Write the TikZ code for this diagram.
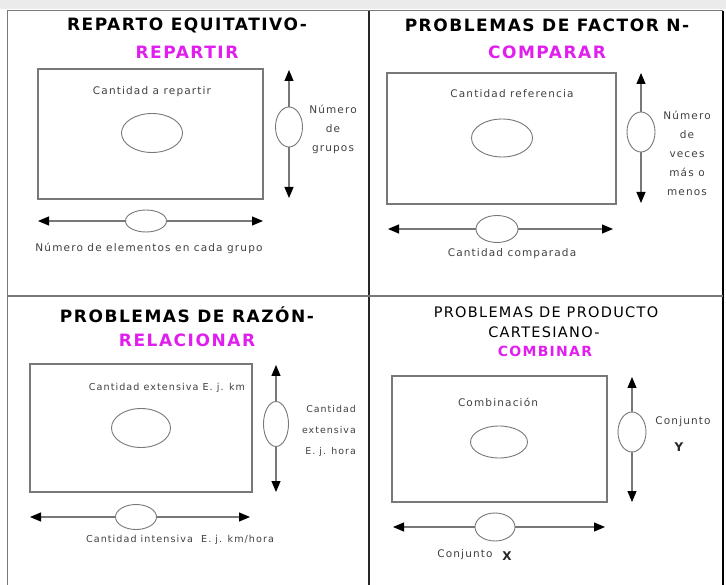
\documentclass[tikz,border=0pt]{standalone}
\usepackage{fontspec}
\setmainfont{DejaVu Sans}
\newfontfamily\titlef[LetterSpace=9]{DejaVu Sans}
\newfontfamily\labf[LetterSpace=11]{DejaVu Sans}
\usetikzlibrary{arrows.meta,shapes.geometric}
\definecolor{mag}{RGB}{225,30,240}
\definecolor{ln}{RGB}{120,120,120}
\begin{document}
\begin{tikzpicture}[x=1pt,y=-1pt,
  box/.style={draw=ln, line width=1.3pt, inner sep=0pt},
  oval/.style={draw=ln, line width=0.9pt, ellipse, fill=white, inner sep=0pt},
  lab/.style={font=\labf\fontsize{10.5}{19}\selectfont, text=black!75, inner sep=0pt, align=center},
  labs/.style={lab, font=\labf\fontsize{9.6}{20}\selectfont},
  ttl/.style={font=\titlef\bfseries\fontsize{17}{19}\selectfont, inner sep=0pt},
  ttlm/.style={ttl, text=mag},
  ttls/.style={font=\titlef\fontsize{14.5}{16}\selectfont, inner sep=0pt},
  ttlsm/.style={font=\titlef\bfseries\fontsize{14}{16}\selectfont, inner sep=0pt, text=mag},
  ar/.style={draw=ln, line width=1.2pt, -{Triangle[length=11pt,width=9pt,black]}},
  big/.style={font=\bfseries\fontsize{12}{14}\selectfont, inner sep=0pt, text=black!85}
]
\useasboundingbox (0,0) rectangle (726,585);
% frame
\fill[black!8] (0,0) rectangle (726,9);
\draw[ln, line width=1pt] (7,11) -- (723,11);
\draw[ln, line width=1pt] (7,11) -- (7,585);
\draw[black, line width=2.5pt] (723,11) -- (723,585);
\draw[black!85, line width=1.3pt] (369,11) -- (369,585);
\draw[ln, line width=2pt] (7,296) -- (723,296);

% ---------- Q1
\node[ttl] (q1a) at (187,25) {REPARTO EQUITATIVO-};
\node[ttlm] (q1b) at (187,52) {REPARTIR};
\node[box, minimum width=225, minimum height=130] (r1) at (150.5,134) {};
\node[lab] (t1) at (152,92) {Cantidad a repartir};
\node[oval, minimum width=61, minimum height=39] (e1) at (152,133) {};
\coordinate (v1t) at (289,70);
\coordinate (v1b) at (289,198);
\node[oval, minimum width=27, minimum height=40] (v1) at (289,127) {};
\draw[ar] (v1.north) -- (v1t);
\draw[ar] (v1.south) -- (v1b);
\node[lab] (l1) at (333,129) {Número\\de\\grupos};
\coordinate (h1l) at (38,221);
\coordinate (h1r) at (263,221);
\node[oval, minimum width=41, minimum height=22] (h1) at (146,221) {};
\draw[ar] (h1.west) -- (h1l);
\draw[ar] (h1.east) -- (h1r);
\node[lab] (b1) at (149,248) {Número de elementos en cada grupo};

% ---------- Q2
\node[ttl] (q2a) at (547,25) {PROBLEMAS DE FACTOR N-};
\node[ttlm] (q2b) at (547,52) {COMPARAR};
\node[box, minimum width=229, minimum height=131] (r2) at (501.5,138.5) {};
\node[lab] (t2) at (512,94) {Cantidad referencia};
\node[oval, minimum width=61, minimum height=38] (e2) at (502,138) {};
\coordinate (v2t) at (641,73);
\coordinate (v2b) at (641,203);
\node[oval, minimum width=28, minimum height=40] (v2) at (641,132) {};
\draw[ar] (v2.north) -- (v2t);
\draw[ar] (v2.south) -- (v2b);
\node[lab] (l2) at (687,153) {Número\\de\\veces\\más o\\menos};
\coordinate (h2l) at (388,229);
\coordinate (h2r) at (613,229);
\node[oval, minimum width=42, minimum height=27] (h2) at (497,229) {};
\draw[ar] (h2.west) -- (h2l);
\draw[ar] (h2.east) -- (h2r);
\node[lab] (b2) at (512,254) {Cantidad comparada};

% ---------- Q3
\node[ttl] (q3a) at (187,315) {PROBLEMAS DE RAZÓN-};
\node[ttlm] (q3b) at (187,340) {RELACIONAR};
\node[box, minimum width=222, minimum height=128] (r3) at (141,428) {};
\node[labs] (t3) at (167,388) {Cantidad extensiva E. j. km};
\node[oval, minimum width=59, minimum height=39] (e3) at (141,428) {};
\coordinate (v3t) at (276,365);
\coordinate (v3b) at (276,492);
\node[oval, minimum width=25, minimum height=45] (v3) at (276,424) {};
\draw[ar] (v3.north) -- (v3t);
\draw[ar] (v3.south) -- (v3b);
\node[labs, font=\labf\fontsize{9.4}{21}\selectfont, align=right, anchor=east] (l3) at (356,431) {Cantidad\\extensiva\\E. j. hora};
\coordinate (h3l) at (30,517);
\coordinate (h3r) at (250,517);
\node[oval, minimum width=41, minimum height=25] (h3) at (136,517) {};
\draw[ar] (h3.west) -- (h3l);
\draw[ar] (h3.east) -- (h3r);
\node[labs] (b3) at (180,540) {Cantidad intensiva\ \ E. j. km/hora};

% ---------- Q4
\node[ttls] (q4a) at (546,312) {PROBLEMAS DE PRODUCTO};
\node[ttls] (q4b) at (544,332) {CARTESIANO-};
\node[ttlsm] (q4c) at (545,351) {COMBINAR};
\node[box, minimum width=215, minimum height=126] (r4) at (499.5,439) {};
\node[lab] (t4) at (498,402) {Combinación};
\node[oval, minimum width=57, minimum height=32] (e4) at (499,442) {};
\coordinate (v4t) at (632,377);
\coordinate (v4b) at (632,502);
\node[oval, minimum width=28, minimum height=40] (v4) at (632,432) {};
\draw[ar] (v4.north) -- (v4t);
\draw[ar] (v4.south) -- (v4b);
\node[lab] (l4) at (683,422) {Conjunto};
\node[big] (l4y) at (679,447) {Y};
\coordinate (h4l) at (393,527);
\coordinate (h4r) at (605,527);
\node[oval, minimum width=40, minimum height=28] (h4) at (495,527) {};
\draw[ar] (h4.west) -- (h4l);
\draw[ar] (h4.east) -- (h4r);
\node[lab] (b4) at (465,555) {Conjunto};
\node[big] (b4x) at (507,556) {X};
\end{tikzpicture}
\end{document}
